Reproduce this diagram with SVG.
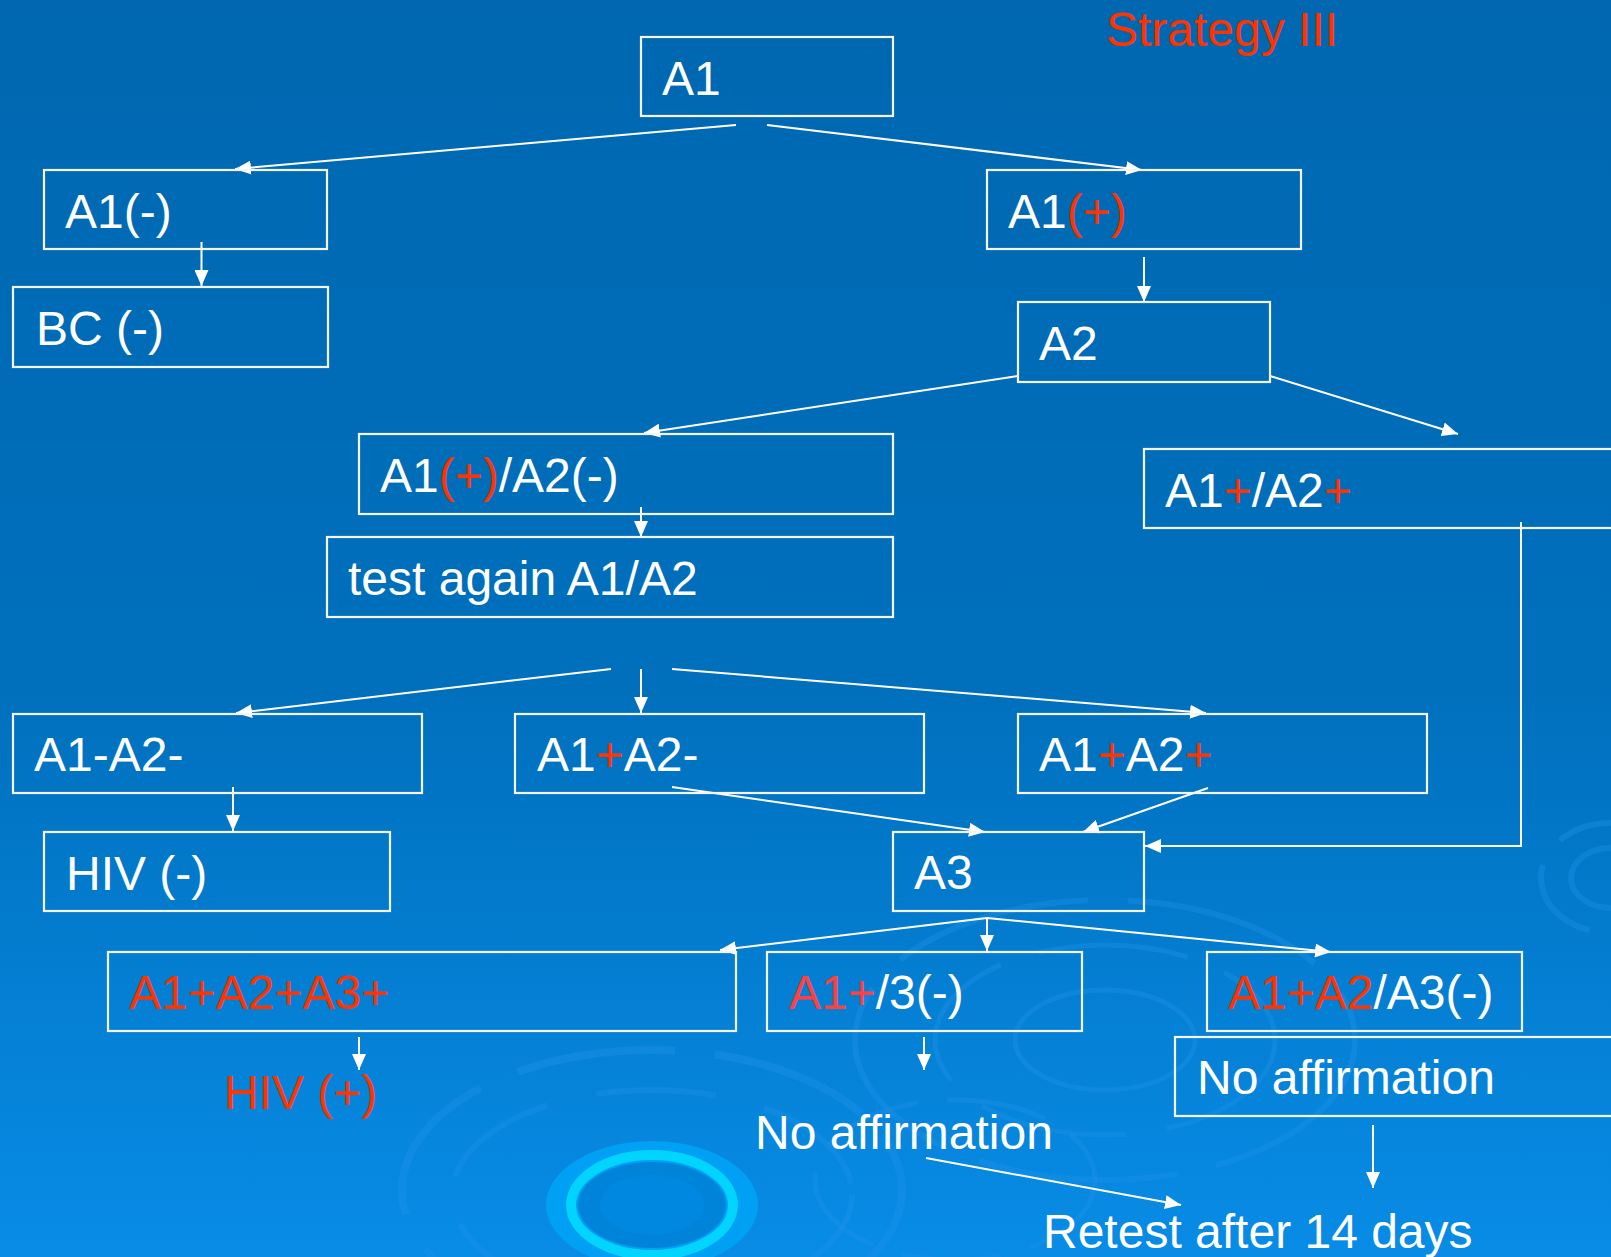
<svg xmlns="http://www.w3.org/2000/svg" width="1611" height="1257" viewBox="0 0 1611 1257">
<defs>
<linearGradient id="bg" x1="0" y1="0" x2="0" y2="1">
<stop offset="0" stop-color="#0067b0"/>
<stop offset="0.55" stop-color="#0070bd"/>
<stop offset="1" stop-color="#088ce6"/>
</linearGradient>
<marker id="arr" markerUnits="userSpaceOnUse" markerWidth="16" markerHeight="14" refX="16" refY="7" orient="auto">
<path d="M0,0 L16,7 L0,14 z" fill="#ffffff"/>
</marker>
<style>
.box{fill:none;stroke:#f4f4f4;stroke-width:2.2}
.t{font-family:"Liberation Sans",Arial,sans-serif;font-size:48px;fill:#ffffff}
.r{fill:#ff3300}
.c{fill:none;stroke:#ffffff;stroke-width:2;marker-end:url(#arr)}
.rip{fill:none;stroke:#1e90e8;stroke-opacity:0.4}
</style>
</defs>
<rect x="0" y="0" width="1611" height="1257" fill="url(#bg)"/>
<g id="decor">
<ellipse class="rip" cx="652" cy="1190" rx="250" ry="140" stroke-width="8" stroke-dasharray="160 40"/>
<ellipse class="rip" cx="652" cy="1195" rx="200" ry="105" stroke-width="6" stroke-dasharray="120 50"/>
<ellipse class="rip" cx="1105" cy="1040" rx="250" ry="140" stroke-width="6" stroke-dasharray="200 40"/>
<ellipse class="rip" cx="1105" cy="1040" rx="170" ry="95" stroke-width="5" stroke-dasharray="150 40"/>
<ellipse class="rip" cx="1105" cy="1040" rx="90" ry="50" stroke-width="5"/>
<ellipse class="rip" cx="955" cy="1180" rx="140" ry="80" stroke-width="5" stroke-dasharray="100 30"/>
<ellipse class="rip" cx="1611" cy="878" rx="70" ry="55" stroke-width="6" stroke-dasharray="90 30"/>
<ellipse class="rip" cx="1611" cy="878" rx="40" ry="30" stroke-width="6"/>
<ellipse cx="652" cy="1205" rx="106" ry="64" fill="#00a0f4"/>
<ellipse cx="652" cy="1205" rx="81" ry="50" fill="none" stroke="#00d4ff" stroke-width="10"/>
<ellipse cx="652" cy="1205" rx="74" ry="43" fill="#0084da"/>
<ellipse cx="652" cy="1205" rx="52" ry="30" fill="#0088e0"/>
</g>
<g id="connectors">
<line class="c" x1="736" y1="125" x2="235" y2="169"/>
<line class="c" x1="767" y1="125" x2="1142" y2="170"/>
<line class="c" x1="201.5" y1="242" x2="201.5" y2="286"/>
<line class="c" x1="1144" y1="257" x2="1144" y2="302"/>
<line class="c" x1="1018" y1="376" x2="644" y2="433"/>
<line class="c" x1="1270" y1="376" x2="1458" y2="434"/>
<line class="c" x1="641" y1="507" x2="641" y2="537"/>
<line class="c" x1="611" y1="669" x2="236" y2="713"/>
<line class="c" x1="641" y1="669" x2="641" y2="713"/>
<line class="c" x1="672" y1="669" x2="1206" y2="713"/>
<line class="c" x1="233" y1="787" x2="233" y2="831"/>
<line class="c" x1="672" y1="787" x2="985" y2="832"/>
<line class="c" x1="1208" y1="788" x2="1083" y2="832"/>
<polyline class="c" points="1521,522 1521,846 1145,846"/>
<line class="c" x1="987" y1="918" x2="720" y2="950"/>
<line class="c" x1="987" y1="918" x2="987" y2="951"/>
<line class="c" x1="987" y1="918" x2="1331" y2="952"/>
<line class="c" x1="359" y1="1037" x2="359" y2="1070"/>
<line class="c" x1="924" y1="1037" x2="924" y2="1070"/>
<line class="c" x1="1373" y1="1125" x2="1373" y2="1188"/>
<line class="c" x1="926" y1="1158" x2="1181" y2="1205"/>
</g>
<g id="title"><text class="t r" x="1106" y="46">Strategy III</text></g>
<g id="n-a1"><rect class="box" x="641" y="37" width="252" height="79"/><text class="t" x="662" y="95">A1</text></g>
<g id="n-a1neg"><rect class="box" x="44" y="170" width="283" height="79"/><text class="t" x="65" y="228">A1(-)</text></g>
<g id="n-bc"><rect class="box" x="13" y="287" width="315" height="80"/><text class="t" x="36" y="345">BC (-)</text></g>
<g id="n-a1pos"><rect class="box" x="987" y="170" width="314" height="79"/><text class="t" x="1008" y="228">A1<tspan class="r">(+)</tspan></text></g>
<g id="n-a2"><rect class="box" x="1018" y="302" width="252" height="80"/><text class="t" x="1039" y="360">A2</text></g>
<g id="n-a1pa2n"><rect class="box" x="359" y="434" width="534" height="80"/><text class="t" x="380" y="492">A1<tspan class="r">(+)</tspan>/A2(-)</text></g>
<g id="n-test"><rect class="box" x="327" y="537" width="566" height="80"/><text class="t" x="348" y="595">test again A1/A2</text></g>
<g id="n-a1pa2p"><rect class="box" x="1144" y="449" width="490" height="79"/><text class="t" x="1165" y="507">A1<tspan class="r">+</tspan>/A2<tspan class="r">+</tspan></text></g>
<g id="n-a1na2n"><rect class="box" x="13" y="714" width="409" height="79"/><text class="t" x="34" y="771">A1-A2-</text></g>
<g id="n-a1pa2n2"><rect class="box" x="515" y="714" width="409" height="79"/><text class="t" x="537" y="771">A1<tspan class="r">+</tspan>A2-</text></g>
<g id="n-a1pa2p2"><rect class="box" x="1018" y="714" width="409" height="79"/><text class="t" x="1039" y="771">A1<tspan class="r">+</tspan>A2<tspan class="r">+</tspan></text></g>
<g id="n-hivneg"><rect class="box" x="44" y="832" width="346" height="79"/><text class="t" x="66" y="890">HIV (-)</text></g>
<g id="n-a3"><rect class="box" x="893" y="832" width="251" height="79"/><text class="t" x="914" y="889">A3</text></g>
<g id="n-allpos"><rect class="box" x="108" y="952" width="628" height="79"/><text class="t r" x="129" y="1009">A1+A2+A3+</text></g>
<g id="n-a1p3n"><rect class="box" x="767" y="952" width="315" height="79"/><text class="t" x="789" y="1009"><tspan fill="#ff4040">A1+</tspan>/3(-)</text></g>
<g id="n-a1a2a3n"><rect class="box" x="1207" y="952" width="315" height="79"/><text class="t" x="1228" y="1009"><tspan class="r">A1+A2</tspan>/A3(-)</text></g>
<g id="n-noaff-box"><rect class="box" x="1175" y="1037" width="460" height="79"/><text class="t" x="1197" y="1094">No affirmation</text></g>
<g id="n-hivpos"><text class="t r" x="224" y="1109">HIV (+)</text></g>
<g id="n-noaff"><text class="t" x="755" y="1149">No affirmation</text></g>
<g id="n-retest"><text class="t" x="1043" y="1248">Retest after 14 days</text></g>
</svg>
